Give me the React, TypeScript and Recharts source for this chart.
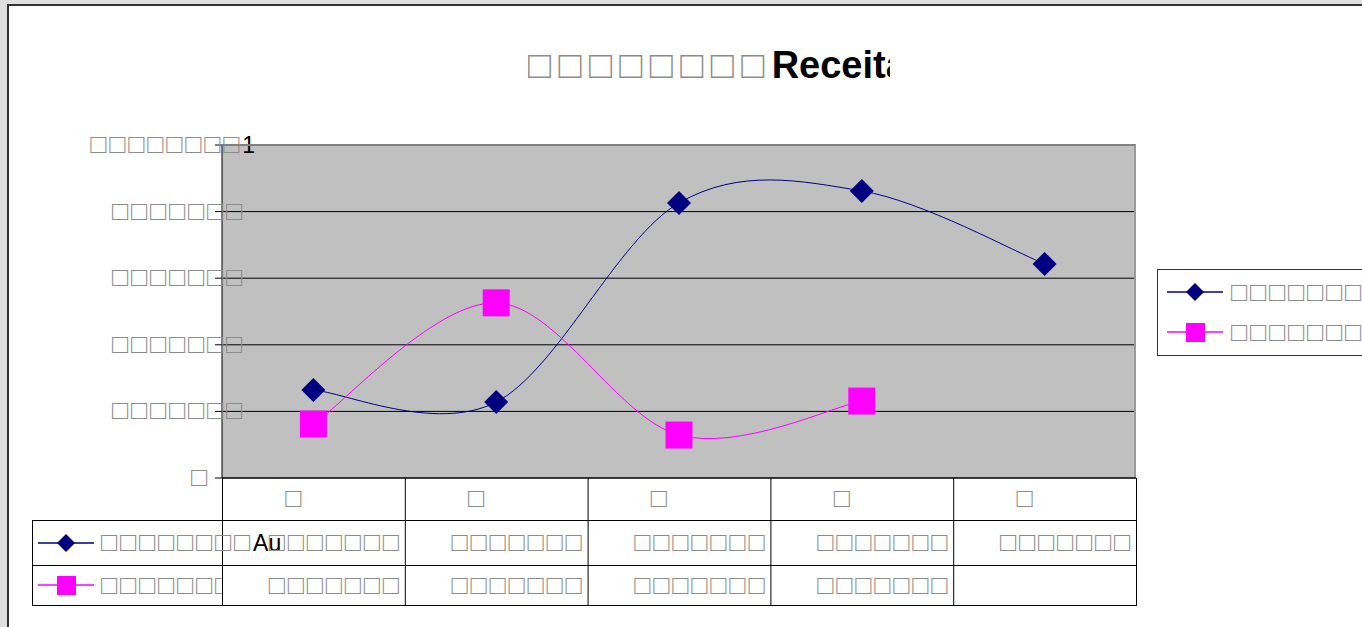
import React from "react";
import { CartesianGrid, Line, LineChart, XAxis, YAxis } from "recharts";

// the source text did not render (tofu boxes), so it is kept as white squares
const BOX = "\u25A1";
const boxes = (n: number) => BOX.repeat(n);

const TITLE = boxes(8) + "Receita";
const CATEGORIES = [BOX, BOX, BOX, BOX, BOX];
const SERIES_A_NAME = boxes(8) + "Au";
const SERIES_B_NAME = boxes(9);
const SERIES_A = [0.264, 0.228, 0.826, 0.862, 0.643];
const SERIES_B = [0.162, 0.526, 0.129, 0.231, null];
const SERIES_A_CELLS = [boxes(7), boxes(7), boxes(7), boxes(7), boxes(7)];
const SERIES_B_CELLS = [boxes(7), boxes(7), boxes(7), boxes(7), ""];
const Y_TICKS = [0, 0.2, 0.4, 0.6, 0.8, 1];
const Y_TICK_LABELS = [boxes(1), boxes(7), boxes(7), boxes(7), boxes(7), boxes(8) + "1"];

const W = 1362;
const H = 627;
const PLOT_LEFT = 222;
const PLOT_TOP = 145;
const PLOT_RIGHT = 1136;
const PLOT_BOTTOM = 478;
const Y_AXIS_W = 60;
const X_AXIS_H = 30;
const COL_W = (PLOT_RIGHT - PLOT_LEFT) / CATEGORIES.length;
const HEADER_BOTTOM = 520;
const ROW1_BOTTOM = 565;
const TABLE_BOTTOM = 605;
const KEY_LEFT = 32;

const NAVY = "#000080";
const PINK = "#ff00ff";
const TOFU_COLOR = "#8c8c8c";
const FONT = "'Liberation Sans', Arial, sans-serif";
const SMALL = 23;
const TOFU_SMALL = 27;
const SMALL_GAP = 2.7;

const chartData = CATEGORIES.map((category, i) => ({
  category,
  a: SERIES_A[i],
  b: SERIES_B[i],
}));

// Excel-like smoothing: cubic bezier with Catmull-Rom tangents
function curveSmooth(context: any) {
  let pts: [number, number][] = [];
  return {
    areaStart() {},
    areaEnd() {},
    lineStart() {
      pts = [];
    },
    point(x: number, y: number) {
      pts.push([+x, +y]);
    },
    lineEnd() {
      const n = pts.length;
      if (!n) return;
      context.moveTo(pts[0][0], pts[0][1]);
      for (let i = 0; i < n - 1; i++) {
        const p0 = pts[Math.max(i - 1, 0)];
        const p1 = pts[i];
        const p2 = pts[i + 1];
        const p3 = pts[Math.min(i + 2, n - 1)];
        context.bezierCurveTo(
          p1[0] + (p2[0] - p0[0]) / 6,
          p1[1] + (p2[1] - p0[1]) / 6,
          p2[0] - (p3[0] - p1[0]) / 6,
          p2[1] - (p3[1] - p1[1]) / 6,
          p2[0],
          p2[1]
        );
      }
    },
  };
}

function splitRuns(text: string) {
  return text.match(/\u25A1+|[^\u25A1]+/g) ?? [];
}

function Mixed({
  text,
  gap,
  tofuSize,
  weight = "normal",
}: {
  text: string;
  gap: number;
  tofuSize?: number;
  weight?: string;
}) {
  return (
    <>
      {splitRuns(text).map((part, i) =>
        part[0] === BOX ? (
          <span
            key={i}
            style={{ color: TOFU_COLOR, letterSpacing: gap, fontWeight: "normal", fontSize: tofuSize }}
          >
            {part}
          </span>
        ) : (
          <span key={i} style={{ color: "#000", fontWeight: weight }}>
            {part}
          </span>
        )
      )}
    </>
  );
}

function YTick(props: any) {
  const { x, y, payload } = props;
  const label = Y_TICK_LABELS[Y_TICKS.indexOf(payload.value)] ?? "";
  const dx = label.length === 1 ? -3 : /[^\u25A1]/.test(label) ? 42 : 32;
  return (
    <text x={x + dx} y={y} dy="0.35em" textAnchor="end" fontFamily={FONT} fontSize={SMALL}>
      {splitRuns(label).map((part, i) =>
        part[0] === BOX ? (
          <tspan key={i} fill={TOFU_COLOR} fontSize={TOFU_SMALL} letterSpacing={SMALL_GAP}>
            {part}
          </tspan>
        ) : (
          <tspan key={i} fill="#000">
            {part}
          </tspan>
        )
      )}
    </text>
  );
}

function Diamond(props: any) {
  const { cx, cy } = props;
  if (cx == null || cy == null) return null;
  const r = 12;
  return <path d={`M${cx},${cy - r}L${cx + r},${cy}L${cx},${cy + r}L${cx - r},${cy}Z`} fill={NAVY} />;
}

function Square(props: any) {
  const { cx, cy } = props;
  if (cx == null || cy == null) return null;
  const s = 13.5;
  return <rect x={cx - s} y={cy - s} width={s * 2} height={s * 2} fill={PINK} />;
}

function LegendKey({ kind }: { kind: "a" | "b" }) {
  return (
    <svg width={56} height={22} style={{ display: "block", flexShrink: 0 }}>
      <line x1={0} y1={11} x2={56} y2={11} stroke={kind === "a" ? NAVY : PINK} strokeWidth={1.5} />
      {kind === "a" ? (
        <path d="M28,2L37,11L28,20L19,11Z" fill={NAVY} />
      ) : (
        <rect x={19} y={2} width={19} height={19} fill={PINK} />
      )}
    </svg>
  );
}

export default function App() {
  const colX = (i: number) => PLOT_LEFT + i * COL_W;

  return (
    <div
      style={{
        position: "fixed",
        left: 0,
        top: 0,
        width: W,
        height: H,
        background: "#dfdfdf",
        overflow: "hidden",
        fontFamily: FONT,
      }}
    >
      <div
        style={{
          position: "absolute",
          left: 7,
          top: 4,
          right: -10,
          bottom: -10,
          background: "#fff",
          borderLeft: "2px solid #333",
          borderTop: "2px solid #333",
        }}
      />

      {/* title, cut off like the source */}
      <div
        style={{
          position: "absolute",
          left: 528,
          top: 46,
          width: 890 - 528,
          overflow: "hidden",
          whiteSpace: "nowrap",
          fontSize: 38,
          lineHeight: "38px",
        }}
      >
        <Mixed text={TITLE} gap={7.5} weight="bold" />
      </div>

      <div style={{ position: "absolute", left: 0, top: 0 }}>
        <LineChart
          width={W}
          height={H}
          data={chartData}
          margin={{
            top: PLOT_TOP,
            left: PLOT_LEFT - Y_AXIS_W,
            right: W - PLOT_RIGHT,
            bottom: H - PLOT_BOTTOM - X_AXIS_H,
          }}
        >
          <CartesianGrid vertical={false} stroke="#000" fill="#c0c0c0" fillOpacity={1} />
          <XAxis
            height={X_AXIS_H}
            tick={false}
            tickLine={false}
            axisLine={{ stroke: "#000" }}
            padding={{ left: COL_W / 2, right: COL_W / 2 }}
          />
          <YAxis
            width={Y_AXIS_W}
            domain={[0, 1]}
            ticks={Y_TICKS}
            interval={0}
            tickSize={7}
            tickLine={{ stroke: "#000" }}
            axisLine={{ stroke: "#000" }}
            tick={<YTick />}
          />
          <Line
            dataKey="a"
            type={curveSmooth as any}
            stroke={NAVY}
            strokeWidth={1}
            dot={<Diamond />}
            activeDot={false}
            isAnimationActive={false}
          />
          <Line
            dataKey="b"
            type={curveSmooth as any}
            stroke={PINK}
            strokeWidth={1}
            dot={<Square />}
            activeDot={false}
            isAnimationActive={false}
          />
        </LineChart>
      </div>

      {/* plot frame: grey top and right edges */}
      <div
        style={{
          position: "absolute",
          left: PLOT_LEFT,
          top: PLOT_TOP - 1,
          width: PLOT_RIGHT - PLOT_LEFT,
          height: PLOT_BOTTOM - PLOT_TOP,
          borderTop: "2px solid #808080",
          borderRight: "2px solid #9a9a9a",
          boxSizing: "border-box",
          pointerEvents: "none",
        }}
      />

      {/* data table lines */}
      <svg width={W} height={H} style={{ position: "absolute", left: 0, top: 0, pointerEvents: "none" }}>
        {CATEGORIES.map((_, i) => (
          <line key={`v${i}`} x1={colX(i) + 0.5} y1={PLOT_BOTTOM} x2={colX(i) + 0.5} y2={TABLE_BOTTOM} stroke="#000" />
        ))}
        <line x1={PLOT_RIGHT + 0.5} y1={PLOT_BOTTOM} x2={PLOT_RIGHT + 0.5} y2={TABLE_BOTTOM} stroke="#000" />
        <line x1={KEY_LEFT + 0.5} y1={HEADER_BOTTOM} x2={KEY_LEFT + 0.5} y2={TABLE_BOTTOM} stroke="#000" />
        {[HEADER_BOTTOM, ROW1_BOTTOM, TABLE_BOTTOM].map((y) => (
          <line key={y} x1={KEY_LEFT} y1={y + 0.5} x2={PLOT_RIGHT + 1} y2={y + 0.5} stroke="#000" />
        ))}
      </svg>

      {/* category header */}
      {CATEGORIES.map((c, i) => (
        <div
          key={`h${i}`}
          style={{
            position: "absolute",
            left: colX(i),
            top: PLOT_BOTTOM,
            width: COL_W,
            height: HEADER_BOTTOM - PLOT_BOTTOM - 2,
            display: "flex",
            alignItems: "center",
            justifyContent: "center",
            paddingRight: 40,
            boxSizing: "border-box",
            fontSize: TOFU_SMALL,
            color: TOFU_COLOR,
          }}
        >
          {c}
        </div>
      ))}

      {/* series rows */}
      {[
        { kind: "a" as const, name: SERIES_A_NAME, cells: SERIES_A_CELLS, top: HEADER_BOTTOM, bottom: ROW1_BOTTOM, clip: false },
        { kind: "b" as const, name: SERIES_B_NAME, cells: SERIES_B_CELLS, top: ROW1_BOTTOM, bottom: TABLE_BOTTOM, clip: true },
      ].map((row) => (
        <React.Fragment key={row.kind}>
          <div
            style={{
              position: "absolute",
              left: KEY_LEFT + 6,
              top: row.top,
              width: PLOT_LEFT - KEY_LEFT - 6,
              height: row.bottom - row.top,
              display: "flex",
              alignItems: "center",
              gap: 7,
              overflow: row.clip ? "hidden" : "visible",
              whiteSpace: "nowrap",
              fontSize: SMALL,
            }}
          >
            <LegendKey kind={row.kind} />
            <span style={{ flexShrink: 0 }}>
              <Mixed text={row.name} gap={SMALL_GAP} tofuSize={TOFU_SMALL} />
            </span>
          </div>
          {row.cells.map((cell, i) => (
            <div
              key={`${row.kind}${i}`}
              style={{
                position: "absolute",
                left: colX(i),
                top: row.top,
                width: COL_W,
                height: row.bottom - row.top,
                display: "flex",
                alignItems: "center",
                justifyContent: "flex-end",
                paddingRight: 3,
                boxSizing: "border-box",
                fontSize: SMALL,
                whiteSpace: "nowrap",
              }}
            >
              <Mixed text={cell} gap={SMALL_GAP} tofuSize={TOFU_SMALL} />
            </div>
          ))}
        </React.Fragment>
      ))}

      {/* legend on the right */}
      <div
        style={{
          position: "absolute",
          left: 1157,
          top: 269,
          width: 240,
          height: 87,
          border: "1px solid #333",
          background: "#fff",
          boxSizing: "border-box",
        }}
      >
        {[
          { kind: "a" as const, name: SERIES_A_NAME },
          { kind: "b" as const, name: SERIES_B_NAME },
        ].map((entry) => (
          <div
            key={entry.kind}
            style={{
              display: "flex",
              alignItems: "center",
              gap: 8,
              height: 40,
              paddingLeft: 9,
              paddingTop: entry.kind === "a" ? 2 : 0,
              whiteSpace: "nowrap",
              fontSize: SMALL,
            }}
          >
            <LegendKey kind={entry.kind} />
            <span style={{ flexShrink: 0 }}>
              <Mixed text={entry.name} gap={SMALL_GAP} tofuSize={TOFU_SMALL} />
            </span>
          </div>
        ))}
      </div>
    </div>
  );
}
